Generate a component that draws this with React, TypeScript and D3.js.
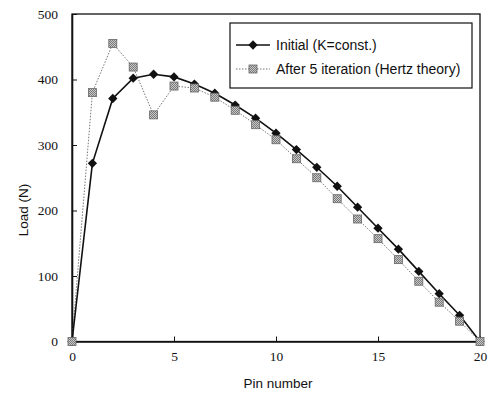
import React, {useEffect, useRef} from 'react';
import * as d3 from 'd3';

const pins = d3.range(0, 21);
const initialLoad = [0, 272, 371, 402, 408, 404, 393, 379, 361, 341, 318, 293, 266, 237, 205, 173, 141, 107, 73, 40, 0];
const hertzLoad = [0, 380, 455, 419, 346, 390, 387, 373, 353, 331, 308, 279, 250, 218, 187, 157, 125, 92, 60, 31, 0];
const xTicks = [0, 5, 10, 15, 20];
const yTicks = [0, 100, 200, 300, 400, 500];
const legendLabels = ['Initial (K=const.)', 'After 5 iteration (Hertz theory)'];

const App = () => {
    const svgRef = useRef<SVGSVGElement>(null);

    useEffect(() => {
        const svg = d3.select(svgRef.current);
        svg.selectAll('*').remove();

        const margin = {top: 14, right: 10, bottom: 65.5, left: 72};
        const W = 490, H = 407;
        const width = W - margin.left - margin.right;
        const height = H - margin.top - margin.bottom;

        const x = d3.scaleLinear().domain([0, 20]).range([0, width]);
        const y = d3.scaleLinear().domain([0, 500]).range([height, 0]);

        // checker pattern for the grey squares
        const defs = svg.append('defs');
        const pat = defs.append('pattern').attr('id', 'chk')
            .attr('width', 2).attr('height', 2).attr('patternUnits', 'userSpaceOnUse');
        pat.append('rect').attr('width', 2).attr('height', 2).attr('fill', '#c8c8c8');
        pat.append('rect').attr('width', 1).attr('height', 1).attr('fill', '#7a7a7a');
        pat.append('rect').attr('x', 1).attr('y', 1).attr('width', 1).attr('height', 1).attr('fill', '#7a7a7a');

        const g = svg.append('g').attr('transform', `translate(${margin.left},${margin.top})`);

        // frame
        g.append('rect').attr('width', width).attr('height', height)
            .attr('fill', 'none').attr('stroke', '#111').attr('stroke-width', 1.3);

        // axes, ticks pointing inward
        const xAxis = d3.axisBottom(x).tickValues(xTicks).tickSize(-5).tickPadding(10).tickSizeOuter(0);
        const yAxis = d3.axisLeft(y).tickValues(yTicks).tickSize(-5).tickPadding(14).tickSizeOuter(0);
        const xg = g.append('g').attr('transform', `translate(0,${height})`).call(xAxis);
        const yg = g.append('g').call(yAxis);
        [xg, yg].forEach(a => {
            a.select('.domain').attr('stroke', '#111').attr('stroke-width', 1.6);
            a.selectAll('.tick line').attr('stroke', '#111');
            a.selectAll('.tick text').attr('font-family', '"Liberation Serif", serif')
                .attr('font-size', 13.5).attr('fill', '#111');
        });

        const line = d3.line<number>().x((d, i) => x(pins[i])).y(d => y(d));

        g.append('path').datum(hertzLoad).attr('d', line).attr('fill', 'none')
            .attr('stroke', '#777').attr('stroke-width', 1).attr('stroke-dasharray', '1.5,1.5');
        g.append('path').datum(initialLoad).attr('d', line).attr('fill', 'none')
            .attr('stroke', '#111').attr('stroke-width', 1.6);

        const diamond = d3.symbol().type(d3.symbolDiamond2).size(55);
        const square = 8;

        g.selectAll('.init').data(initialLoad).join('path').attr('class', 'init')
            .attr('d', diamond)
            .attr('transform', (d, i) => `translate(${x(pins[i])},${y(d)})`)
            .attr('fill', '#111');

        g.selectAll('.hz').data(hertzLoad).join('rect').attr('class', 'hz')
            .attr('x', (d, i) => x(pins[i]) - square / 2)
            .attr('y', d => y(d) - square / 2)
            .attr('width', square).attr('height', square)
            .attr('fill', 'url(#chk)').attr('stroke', '#666').attr('stroke-width', 0.8);

        // axis titles
        svg.append('text').attr('x', margin.left + width / 2 + 2).attr('y', 388)
            .attr('text-anchor', 'middle').attr('font-family', '"Liberation Sans", Arial, sans-serif')
            .attr('font-size', 13.5).attr('fill', '#111').text('Pin number');
        svg.append('text').attr('transform', `translate(28,210) rotate(-90)`)
            .attr('text-anchor', 'middle').attr('font-family', '"Liberation Sans", Arial, sans-serif')
            .attr('font-size', 13.5).attr('fill', '#111').text('Load (N)');

        // legend
        const lg = svg.append('g').attr('transform', 'translate(230,23)');
        lg.append('rect').attr('width', 242).attr('height', 65)
            .attr('fill', '#fff').attr('stroke', '#111').attr('stroke-width', 1.2);
        legendLabels.forEach((lab, i) => {
            const ly = 22 + i * 24;
            lg.append('line').attr('x1', 6).attr('x2', 40).attr('y1', ly).attr('y2', ly)
                .attr('stroke', i === 0 ? '#111' : '#777')
                .attr('stroke-width', i === 0 ? 1.6 : 1)
                .attr('stroke-dasharray', i === 0 ? null : '1.5,1.5');
            if (i === 0) {
                lg.append('path').attr('d', diamond).attr('transform', `translate(23,${ly})`).attr('fill', '#111');
            } else {
                lg.append('rect').attr('x', 23 - square / 2).attr('y', ly - square / 2)
                    .attr('width', square).attr('height', square)
                    .attr('fill', 'url(#chk)').attr('stroke', '#666').attr('stroke-width', 0.8);
            }
            lg.append('text').attr('x', 46).attr('y', ly + 5)
                .attr('font-family', '"Liberation Sans", Arial, sans-serif')
                .attr('font-size', 14).attr('fill', '#111').text(lab);
        });
    }, []);

    return (
        <svg ref={svgRef} width={490} height={407} style={{position: 'absolute', left: 0, top: 0, background: '#fff'}} />
    );
};

export default App;
